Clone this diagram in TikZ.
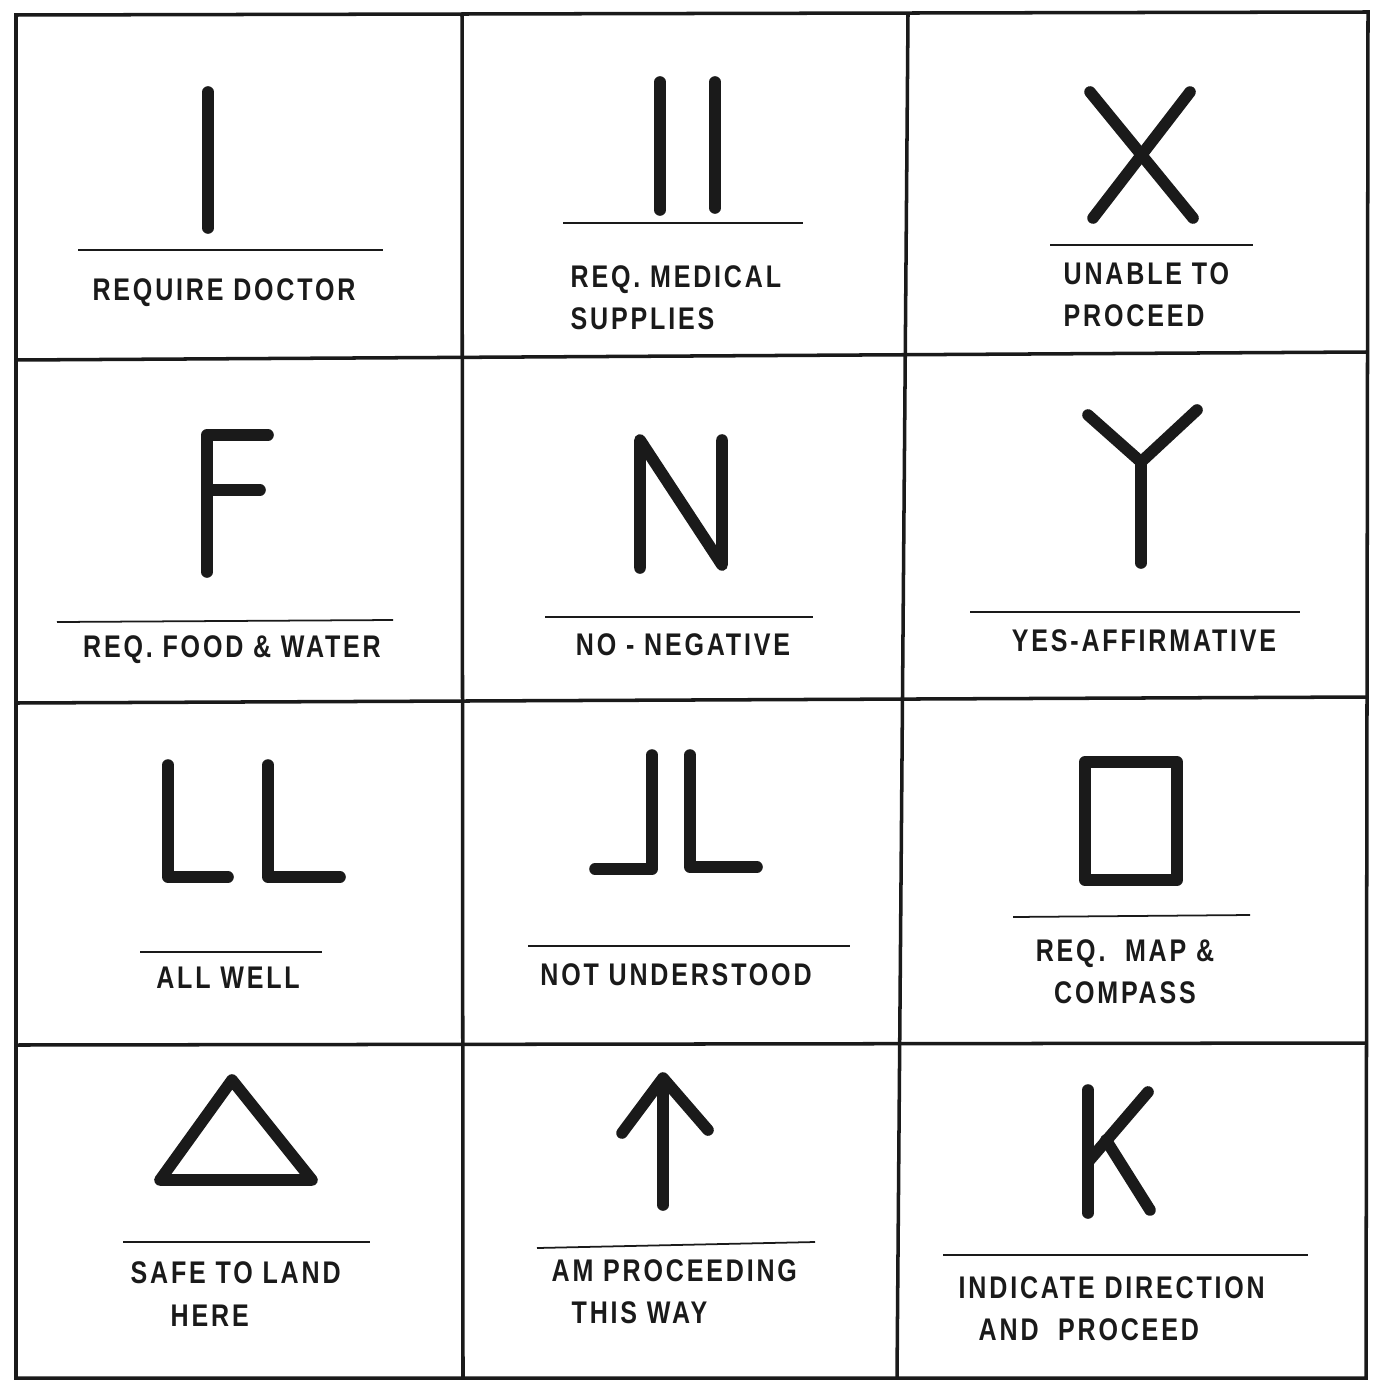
\documentclass[tikz,border=0pt]{standalone}
\usepackage{fontspec}
\usepackage{xcolor}
\usepackage{tikz}
\usetikzlibrary{positioning}
\newfontfamily\signfont{Liberation Sans}[FakeStretch=0.8,LetterSpace=9]
\definecolor{inkblack}{HTML}{1A1A1A}

\begin{document}
\begin{tikzpicture}[x=0.01cm, y=-0.01cm,
  font=\fontsize{8.9pt}{12pt}\signfont\bfseries,
  sign/.style={inkblack, line width=3.3pt, line cap=round, line join=round},
  rule/.style={inkblack, line width=0.5pt},
  frame/.style={inkblack, line width=1pt},
  lbl/.style={inkblack, inner sep=0pt, align=left}]
  \useasboundingbox (0,0) rectangle (1373,1382);

  % grid
  \draw[frame] (16,15) -- (1368,12) -- (1366,1378) -- (16,1378) -- cycle;
  \draw[frame] (462,15) -- (463,1378);
  \draw[frame] (908,14) -- (897,1378);
  \draw[frame] (16,360) -- (1367,352);
  \draw[frame] (16,703) -- (1367,697);
  \draw[frame] (16,1045) -- (1366,1043);

  % signs
  \draw[sign] (208,92) -- (208,228);
  \draw[sign] (660,82) -- (660,210);
  \draw[sign] (715,82) -- (715,208);
  \draw[sign] (1090,92) -- (1193,218);
  \draw[sign] (1190,92) -- (1093,218);
  \draw[sign] (268,435) -- (207,435) -- (207,572);
  \draw[sign] (207,490) -- (260,490);
  \draw[sign] (640,568) -- (640,440) -- (722,565) -- (722,440);
  \draw[sign] (1088,415) -- (1141,462) -- (1197,410);
  \draw[sign] (1141,462) -- (1141,563);
  \draw[sign] (168,765) -- (168,877) -- (228,877);
  \draw[sign] (268,765) -- (268,877) -- (340,877);
  \draw[sign] (652,755) -- (652,869) -- (595,869);
  \draw[sign] (690,755) -- (690,867) -- (757,867);
  \draw[sign] (1085,762) rectangle (1177,880);
  \draw[sign] (232,1080) -- (312,1180) -- (160,1180) -- cycle;
  \draw[sign] (663,1082) -- (663,1205);
  \draw[sign] (622,1133) -- (663,1078) -- (708,1130);
  \draw[sign] (1088,1090) -- (1088,1213);
  \draw[sign] (1148,1092) -- (1088,1162);
  \draw[sign] (1106,1140) -- (1150,1210);

  % rules
  \draw[rule] (78,250) -- (383,250);
  \draw[rule] (563,223) -- (803,223);
  \draw[rule] (1050,245) -- (1253,245);
  \draw[rule] (57,622) -- (393,620);
  \draw[rule] (545,617) -- (813,617);
  \draw[rule] (970,612) -- (1300,612);
  \draw[rule] (140,952) -- (322,952);
  \draw[rule] (528,946) -- (850,946);
  \draw[rule] (1013,917) -- (1250,915);
  \draw[rule] (123,1242) -- (370,1242);
  \draw[rule] (537,1248) -- (815,1242);
  \draw[rule] (943,1255) -- (1308,1255);

  % labels
  \node (doctor) [lbl] at (224,293) {REQUIRE DOCTOR};
  \node (medical) [lbl, anchor=west] at (570,298) {REQ. MEDICAL\\SUPPLIES};
  \node (unable) [lbl, anchor=west] at (1063,295) {UNABLE TO\\PROCEED};
  \node (food) [lbl] at (232,650) {REQ. FOOD \& WATER};
  \node (negative) [lbl] at (683,645) {NO - NEGATIVE};
  \node (yes) [lbl] at (1144,641) {YES-AFFIRMATIVE};
  \node (allwell) [lbl] at (228,978) {ALL WELL};
  \node (notund) [lbl] at (676,975) {NOT UNDERSTOOD};
  \node (mapcomp) [lbl, align=center] at (1125,972) {REQ.\ \ MAP \&\\COMPASS};
  \node (safeland) [lbl, anchor=west] at (130,1294) {SAFE TO LAND\\\hspace*{0.4cm}HERE};
  \node (proceeding) [lbl, anchor=west] at (551,1292) {AM PROCEEDING\\\hspace*{0.2cm}THIS WAY};
  \node (direction) [lbl, anchor=west] at (958,1309) {INDICATE DIRECTION\\\hspace*{0.2cm}AND\ \ PROCEED};
\end{tikzpicture}
\end{document}
